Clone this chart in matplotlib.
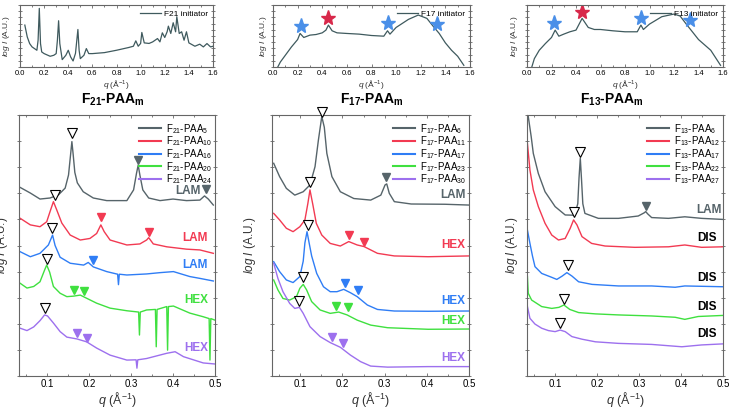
import matplotlib
matplotlib.use('Agg')
import matplotlib.pyplot as plt
from matplotlib.ticker import MultipleLocator

plt.rcParams['font.family'] = ['Liberation Sans', 'DejaVu Sans']
plt.rcParams['mathtext.fontset'] = 'custom'
plt.rcParams['mathtext.rm'] = 'Liberation Sans'
plt.rcParams['mathtext.it'] = 'Liberation Sans:italic'
plt.rcParams['mathtext.bf'] = 'Liberation Sans:bold'

GREY, RED, BLUE, GREEN, PURPLE = '#56646a', '#f23a52', '#2f7df5', '#3fe03f', '#9d70ee'
INIT = '#3f5a5e'
STAR_BLUE, STAR_RED = '#4a8fe8', '#d8284a'
COLORS = [GREY, RED, BLUE, GREEN, PURPLE]

# ── initiators (top row) ────────────────────────────────────────────────
f21i_q = [0.04, 0.06, 0.08, 0.10, 0.12, 0.14, 0.15, 0.16, 0.17, 0.18, 0.20, 0.25, 0.28, 0.30,
          0.31, 0.32, 0.33, 0.35, 0.38, 0.40, 0.42, 0.44, 0.46, 0.48, 0.49, 0.50, 0.53, 0.55,
          0.57, 0.60, 0.70, 0.80, 0.90, 0.94, 0.96, 0.98, 1.00, 1.01, 1.03, 1.07, 1.10, 1.14,
          1.16, 1.18, 1.20, 1.22, 1.23, 1.25, 1.27, 1.29, 1.30, 1.32, 1.34, 1.36, 1.38, 1.40,
          1.45, 1.49, 1.52, 1.55, 1.58, 1.60]
f21i_i = [6.76, 4.86, 3.78, 3.24, 2.97, 2.70, 4.32, 9.46, 3.78, 2.43, 2.16, 1.73, 1.89, 2.16,
          4.30, 7.46, 3.78, 1.19, 1.89, 2.70, 1.62, 0.97, 2.20, 6.05, 2.70, 1.35, 1.89, 2.97,
          2.16, 2.16, 2.32, 2.70, 3.14, 3.35, 4.22, 3.35, 3.80, 5.57, 3.89, 3.80, 4.05, 4.59,
          4.05, 5.51, 4.76, 5.70, 6.59, 5.41, 7.14, 5.68, 8.11, 5.41, 5.68, 4.32, 5.68, 3.89,
          3.35, 3.68, 3.24, 3.78, 3.24, 3.35]

f17i_q = [0.04, 0.06, 0.10, 0.15, 0.20, 0.22, 0.25, 0.30, 0.35, 0.40, 0.43, 0.45, 0.48, 0.52,
          0.60, 0.70, 0.80, 0.90, 0.93, 0.95, 1.00, 1.10, 1.18, 1.25, 1.30, 1.35, 1.40, 1.45,
          1.50, 1.55]
f17i_i = [0.05, 0.81, 1.89, 3.24, 4.43, 5.41, 4.76, 5.14, 5.24, 5.51, 5.95, 6.76, 5.84, 5.51,
          5.41, 5.30, 5.08, 4.97, 5.84, 5.30, 6.38, 7.68, 8.38, 7.84, 6.59, 5.41, 3.89, 2.70,
          1.73, 0.27]
f17_star_q = [0.23, 0.45, 0.93, 1.33]
f17_star_i = [6.59, 7.84, 7.14, 6.92]

f13i_q = [0.04, 0.06, 0.10, 0.15, 0.20, 0.23, 0.26, 0.30, 0.35, 0.40, 0.45, 0.50, 0.55, 0.60,
          0.70, 0.80, 0.90, 0.93, 0.95, 1.00, 1.10, 1.20, 1.25, 1.30, 1.35, 1.40, 1.50, 1.58]
f13i_i = [0.05, 1.35, 2.70, 3.78, 4.76, 5.95, 4.97, 5.30, 5.68, 5.95, 7.84, 6.38, 6.05, 6.05,
          5.84, 5.68, 5.68, 6.76, 6.05, 6.92, 8.11, 8.54, 8.22, 6.92, 5.68, 4.43, 2.70, 0.27]
f13_star_q = [0.22, 0.45, 0.93, 1.33]
f13_star_i = [7.03, 8.92, 7.84, 7.57]
star_colors = [STAR_BLUE, STAR_RED, STAR_BLUE, STAR_BLUE]

# ── F21-PAAm ─────────────────────────────────────────────────────────────
f21_labels = ['5', '10', '16', '20', '24']
f21_q5 = [0.033, 0.060, 0.083, 0.107, 0.127, 0.143, 0.151, 0.156, 0.159, 0.162, 0.166, 0.172,
          0.186, 0.210, 0.242, 0.290, 0.306, 0.313, 0.317, 0.321, 0.328, 0.342, 0.369, 0.400,
          0.432, 0.464, 0.475, 0.484, 0.496]
f21_i5 = [7.25, 7.01, 6.78, 6.82, 6.94, 7.20, 7.70, 8.50, 8.98, 8.50, 7.80, 7.40,
          7.06, 6.82, 6.72, 6.72, 7.13, 7.77, 8.08, 7.70, 7.13, 6.82, 6.72, 6.78,
          6.72, 6.74, 6.90, 6.78, 6.55]
f21_q10 = [0.036, 0.060, 0.083, 0.099, 0.107, 0.115, 0.123, 0.135, 0.155, 0.179, 0.202, 0.218,
           0.228, 0.236, 0.250, 0.290, 0.321, 0.337, 0.342, 0.353, 0.385, 0.432, 0.464, 0.496]
f21_i10 = [6.04, 5.79, 5.72, 5.91, 6.30, 6.68, 6.36, 5.86, 5.40, 5.21, 5.27, 5.46,
           5.79, 5.53, 5.21, 5.02, 5.06, 5.21, 5.30, 5.06, 4.95, 4.86, 4.83, 4.70]
f21_q16 = [0.036, 0.060, 0.083, 0.103, 0.113, 0.119, 0.131, 0.155, 0.187, 0.198, 0.210, 0.242,
           0.268, 0.270, 0.272, 0.290, 0.337, 0.369, 0.401, 0.440, 0.464, 0.496]
f21_i16 = [4.76, 4.57, 4.70, 5.02, 5.40, 5.00, 4.55, 4.32, 4.25, 4.35, 4.18, 4.00,
           3.90, 3.50, 3.90, 3.87, 3.91, 3.96, 4.00, 3.81, 3.74, 3.64]
f21_q20 = [0.036, 0.052, 0.068, 0.083, 0.094, 0.099, 0.106, 0.115, 0.131, 0.147, 0.163, 0.179,
           0.194, 0.218, 0.250, 0.290, 0.318, 0.320, 0.322, 0.337, 0.358, 0.360, 0.362, 0.385,
           0.387, 0.389, 0.401, 0.440, 0.472, 0.486, 0.488, 0.490, 0.500]
f21_i20 = [3.55, 3.37, 3.43, 3.61, 4.06, 4.25, 3.98, 3.43, 3.17, 3.04, 3.06, 3.10,
           2.98, 2.79, 2.60, 2.50, 2.45, 1.57, 2.45, 2.53, 2.55, 1.12, 2.55, 2.66,
           0.99, 2.66, 2.68, 2.41, 2.27, 2.20, 0.61, 2.20, 2.14]
f21_q24 = [0.036, 0.052, 0.068, 0.083, 0.094, 0.101, 0.115, 0.131, 0.147, 0.171, 0.194, 0.218,
           0.250, 0.290, 0.312, 0.314, 0.316, 0.337, 0.385, 0.405, 0.425, 0.472, 0.500]
f21_i24 = [1.83, 1.74, 1.88, 2.12, 2.34, 2.30, 2.03, 1.70, 1.49, 1.42, 1.31, 1.07,
           0.80, 0.61, 0.62, 0.30, 0.62, 0.67, 0.87, 0.93, 0.74, 0.50, 0.46]
f21_open_q = [0.159, 0.119, 0.111, 0.099, 0.094]
f21_open_i = [9.30, 6.93, 5.66, 4.47, 2.62]
f21_fill_q = [0.317, 0.478, 0.228, 0.342, 0.209, 0.163, 0.187, 0.171, 0.196]
f21_fill_i = [8.28, 7.16, 6.08, 5.50, 4.44, 3.30, 3.27, 1.63, 1.44]
f21_fill_c = [GREY, GREY, RED, RED, BLUE, GREEN, GREEN, PURPLE, PURPLE]
f21_phase = ['LAM', 'LAM', 'LAM', 'HEX', 'HEX']
f21_phase_q = [0.465, 0.483, 0.483, 0.483, 0.483]
f21_phase_i = [7.09, 5.27, 4.25, 2.91, 1.06]

# ── F17-PAAm ─────────────────────────────────────────────────────────────
f17_labels = ['6', '11', '17', '23', '30']
f17_q6 = [0.037, 0.051, 0.067, 0.087, 0.107, 0.123, 0.135, 0.143, 0.151, 0.157, 0.163, 0.175,
          0.195, 0.227, 0.267, 0.291, 0.301, 0.305, 0.311, 0.323, 0.363, 0.443, 0.499]
f17_i6 = [8.15, 7.64, 7.19, 6.93, 7.06, 7.32, 8.02, 9.04, 9.94, 9.53, 8.53, 7.64,
          7.06, 6.80, 6.74, 6.93, 7.32, 7.36, 7.00, 6.68, 6.59, 6.58, 6.55]
f17_q11 = [0.037, 0.051, 0.067, 0.083, 0.099, 0.111, 0.118, 0.123, 0.130, 0.138, 0.151, 0.171,
           0.195, 0.215, 0.235, 0.251, 0.283, 0.323, 0.403, 0.499]
f17_i11 = [6.23, 5.98, 5.66, 5.53, 5.72, 5.98, 6.61, 7.13, 6.55, 5.85, 5.40, 5.08,
           4.98, 5.15, 5.02, 4.96, 4.70, 4.60, 4.57, 4.60]
f17_q17 = [0.037, 0.051, 0.067, 0.083, 0.099, 0.107, 0.111, 0.116, 0.121, 0.127, 0.139, 0.155,
           0.171, 0.187, 0.203, 0.219, 0.235, 0.259, 0.283, 0.323, 0.403, 0.499]
f17_i17 = [4.38, 4.00, 3.68, 3.58, 3.81, 4.40, 5.10, 5.53, 5.10, 4.60, 3.93, 3.42,
           3.23, 3.23, 3.32, 3.19, 3.04, 2.72, 2.55, 2.49, 2.48, 2.49]
f17_q23 = [0.037, 0.047, 0.059, 0.075, 0.091, 0.099, 0.107, 0.115, 0.127, 0.147, 0.171, 0.191,
           0.211, 0.235, 0.267, 0.307, 0.403, 0.499]
f17_i23 = [3.68, 3.30, 2.97, 2.91, 3.04, 3.36, 3.51, 3.30, 2.85, 2.53, 2.40, 2.45,
           2.34, 2.14, 1.95, 1.85, 1.79, 1.80]
f17_q30 = [0.037, 0.047, 0.059, 0.075, 0.087, 0.098, 0.107, 0.123, 0.147, 0.171, 0.195, 0.219,
           0.243, 0.267, 0.307, 0.403, 0.499]
f17_i30 = [4.32, 3.74, 3.23, 2.78, 2.59, 2.63, 2.40, 1.89, 1.51, 1.28, 1.10, 0.80,
           0.55, 0.38, 0.34, 0.36, 0.36]
f17_open_q = [0.151, 0.123, 0.118, 0.107, 0.098]
f17_open_i = [10.13, 7.44, 5.79, 3.78, 2.89]
f17_fill_q = [0.303, 0.215, 0.250, 0.205, 0.237, 0.185, 0.213, 0.175, 0.201]
f17_fill_i = [7.64, 5.40, 5.15, 3.55, 3.30, 2.68, 2.63, 1.48, 1.25]
f17_fill_c = [GREY, RED, RED, BLUE, BLUE, GREEN, GREEN, PURPLE, PURPLE]
f17_phase = ['LAM', 'HEX', 'HEX', 'HEX', 'HEX']
f17_phase_q = [0.491, 0.491, 0.491, 0.491, 0.491]
f17_phase_i = [6.93, 5.02, 2.89, 2.12, 0.68]

# ── F13-PAAm ─────────────────────────────────────────────────────────────
f13_labels = ['6', '12', '17', '22', '27']
f13_q6 = [0.033, 0.036, 0.043, 0.048, 0.060, 0.076, 0.100, 0.124, 0.146, 0.154, 0.157, 0.160,
          0.163, 0.166, 0.171, 0.203, 0.251, 0.298, 0.312, 0.316, 0.320, 0.330, 0.370, 0.409,
          0.449, 0.499]
f13_i6 = [10.8, 9.94, 9.17, 8.53, 7.76, 7.06, 6.49, 6.17, 6.16, 6.60, 7.60, 8.34,
          7.50, 6.60, 6.23, 6.04, 6.04, 6.13, 6.25, 6.30, 6.22, 6.07, 6.04, 6.10,
          6.04, 6.00]
f13_q12 = [0.034, 0.040, 0.048, 0.060, 0.076, 0.092, 0.108, 0.124, 0.136, 0.144, 0.152, 0.164,
           0.187, 0.219, 0.290, 0.370, 0.409, 0.449, 0.499]
f13_i12 = [8.91, 7.89, 7.13, 6.49, 5.85, 5.40, 5.21, 5.27, 5.66, 5.98, 5.79, 5.34,
           5.08, 4.98, 4.93, 4.95, 5.02, 4.93, 4.95]
f13_q17 = [0.034, 0.040, 0.046, 0.052, 0.068, 0.092, 0.104, 0.117, 0.128, 0.140, 0.156, 0.188,
           0.251, 0.330, 0.386, 0.409, 0.499]
f13_i17 = [5.59, 5.08, 4.60, 4.19, 3.93, 3.78, 3.70, 3.83, 3.96, 3.83, 3.61, 3.51,
           3.45, 3.45, 3.40, 3.45, 3.42]
f13_q22 = [0.034, 0.036, 0.044, 0.068, 0.092, 0.109, 0.121, 0.135, 0.156, 0.196, 0.251, 0.330,
           0.386, 0.409, 0.441, 0.499]
f13_i22 = [3.81, 3.17, 2.91, 2.66, 2.59, 2.63, 2.72, 2.55, 2.43, 2.38, 2.34, 2.30,
           2.25, 2.17, 2.28, 2.32]
f13_q27 = [0.034, 0.040, 0.052, 0.068, 0.084, 0.100, 0.112, 0.124, 0.140, 0.164, 0.196, 0.251,
           0.330, 0.402, 0.449, 0.499]
f13_i27 = [2.66, 2.21, 1.99, 1.83, 1.74, 1.70, 1.76, 1.70, 1.51, 1.41, 1.31, 1.25,
           1.21, 1.12, 1.19, 1.23]
f13_open_q = [0.160, 0.146, 0.130, 0.121, 0.112]
f13_open_i = [8.59, 6.30, 4.25, 2.94, 2.04]
f13_fill_q = [0.317]
f13_fill_i = [6.51]
f13_fill_c = [GREY]
f13_phase = ['LAM', 'DIS', 'DIS', 'DIS', 'DIS']
f13_phase_q = [0.497, 0.486, 0.486, 0.486, 0.486]
f13_phase_i = [6.36, 5.27, 3.74, 2.66, 1.61]

W, H = 730, 409
fig = plt.figure(figsize=(W / 100, H / 100), dpi=100)


def px_axes(x0, x1, y0, y1):
    return fig.add_axes([x0 / W, 1 - y1 / H, (x1 - x0) / W, (y1 - y0) / H])


def frame(ax, labelsize):
    for s in ax.spines.values():
        s.set_color('#666666')
        s.set_linewidth(0.8)
    ax.tick_params(which='both', direction='in', top=True, right=True, labelsize=labelsize,
                   color='#666666', length=2.5, width=0.6, pad=2)
    ax.tick_params(axis='y', which='both', left=True, direction='inout')
    ax.tick_params(which='minor', length=1.5)
    ax.set_yticklabels([])


# top row
tops = [(20, 213, f21i_q, f21i_i, 'F21 initiator', None, None, -0.04),
        (273, 470, f17i_q, f17i_i, 'F17 initiator', f17_star_q, f17_star_i, -0.018),
        (527, 723, f13i_q, f13i_i, 'F13 initiator', f13_star_q, f13_star_i, -0.036)]
for x0, x1, q, i, lab, sq, si, yl in tops:
    ax = px_axes(x0, x1, 5, 67)
    ax.plot(q, i, color=INIT, lw=0.9, label=lab)
    if sq is not None:
        for xq, yi, c in zip(sq, si, star_colors):
            ax.plot(xq, yi, marker='*', ms=11, color=c, mec=c, ls='none')
    ax.set_xlim(0, 1.6)
    ax.set_ylim(0, 10)
    ax.xaxis.set_major_locator(MultipleLocator(0.2))
    ax.xaxis.set_minor_locator(MultipleLocator(0.1))
    ax.yaxis.set_major_locator(MultipleLocator(1))
    frame(ax, 5.5)
    ax.set_xticklabels([f'{v:.1f}' for v in ax.get_xticks()])
    ax.set_xlabel(r'$q$ (Å$^{-1}$)', fontsize=6, labelpad=1, color='#333333')
    ax.set_ylabel(r'$log\ I$ (A.U.)', fontsize=6, color='#333333')
    ax.yaxis.set_label_coords(yl, 0.5)
    ax.legend(loc='upper right', frameon=False, fontsize=6, handlelength=2.5,
              borderaxespad=0.2, handletextpad=0.4)

# bottom row
panels = [
    (19, 215, '21', f21_labels,
     [(f21_q5, f21_i5), (f21_q10, f21_i10), (f21_q16, f21_i16), (f21_q20, f21_i20), (f21_q24, f21_i24)],
     f21_open_q, f21_open_i, f21_fill_q, f21_fill_i, f21_fill_c,
     f21_phase, f21_phase_q, f21_phase_i, 113, -0.045),
    (272, 469, '17', f17_labels,
     [(f17_q6, f17_i6), (f17_q11, f17_i11), (f17_q17, f17_i17), (f17_q23, f17_i23), (f17_q30, f17_i30)],
     f17_open_q, f17_open_i, f17_fill_q, f17_fill_i, f17_fill_c,
     f17_phase, f17_phase_q, f17_phase_i, 372, -0.07),
    (527, 723, '13', f13_labels,
     [(f13_q6, f13_i6), (f13_q12, f13_i12), (f13_q17, f13_i17), (f13_q22, f13_i22), (f13_q27, f13_i27)],
     f13_open_q, f13_open_i, f13_fill_q, f13_fill_i, f13_fill_c,
     f13_phase, f13_phase_q, f13_phase_i, 612, -0.036),
]
for (x0, x1, n, labels, curves, oq, oi, fq, fi, fc, ph, phq, phi, tx, yl) in panels:
    ax = px_axes(x0, x1, 115, 376)
    for (q, i), c, lab in zip(curves, COLORS, labels):
        ax.plot(q, i, color=c, lw=1.0, label=rf'F$_{{{n}}}$-PAA$_{{{lab}}}$')
    ax.plot(oq, oi, ls='none', marker='v', ms=7, mfc='white', mec='black', mew=0.8,
            clip_on=False, zorder=5)
    for xq, yi, c in zip(fq, fi, fc):
        ax.plot(xq, yi, ls='none', marker='v', ms=5.5, color=c, zorder=5)
    for t, xq, yi, c in zip(ph, phq, phi, COLORS):
        col = 'black' if t == 'DIS' else c
        ax.text(xq, yi, t, color=col, fontsize=8.5, fontweight='bold', ha='right', va='center')
    ax.set_xlim(0.033, 0.5)
    ax.set_ylim(0, 10)
    ax.xaxis.set_major_locator(MultipleLocator(0.1))
    ax.xaxis.set_minor_locator(MultipleLocator(0.05))
    ax.yaxis.set_major_locator(MultipleLocator(1))
    frame(ax, 7)
    ax.set_xticklabels([f'{v:.1f}' for v in ax.get_xticks()])
    ax.set_xlabel(r'$q$ (Å$^{-1}$)', fontsize=9, labelpad=1, color='#333333')
    ax.set_ylabel(r'$log\ I$ (A.U.)', fontsize=8.5, color='#333333')
    ax.yaxis.set_label_coords(yl, 0.5)
    leg = ax.legend(loc='upper right', bbox_to_anchor=(1.02, 1.0), frameon=False, fontsize=7,
                    handlelength=2.3, labelspacing=-0.12, borderaxespad=0.3, handletextpad=0.5)
    for h in leg.get_lines():
        h.set_linewidth(1.5)
    fig.text(tx / W, 1 - 100 / H, rf'F$_{{\mathbf{{{n}}}}}$-PAA$_{{\mathbf{{m}}}}$',
             fontsize=10, fontweight='bold', ha='center', va='center')

fig.savefig('out.png', dpi=100)
